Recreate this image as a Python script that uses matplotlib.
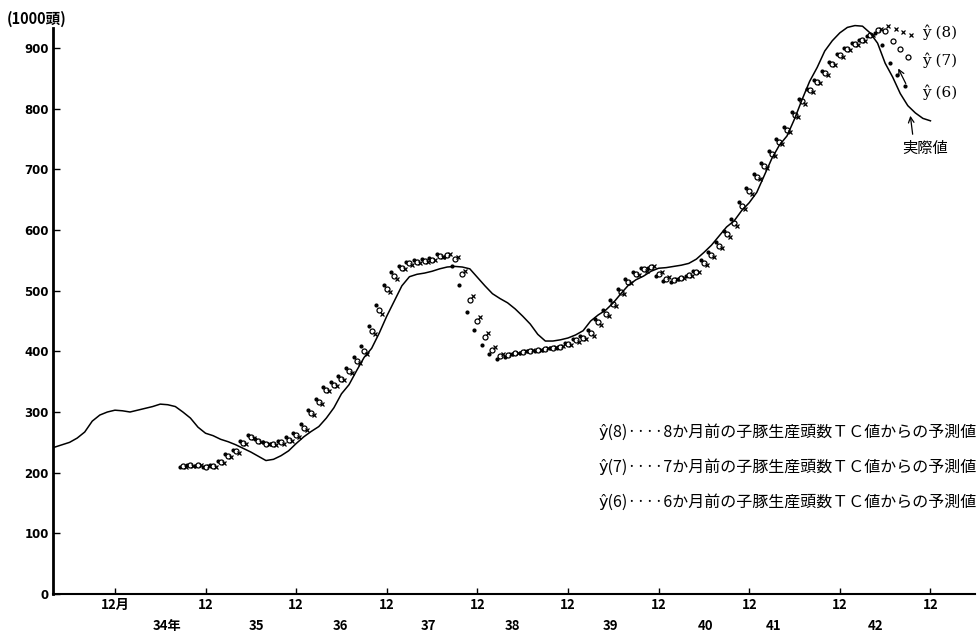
import numpy as np
import matplotlib
matplotlib.use("Agg")
import matplotlib.pyplot as plt
from matplotlib.transforms import offset_copy

plt.rcParams['font.family'] = ['Noto Sans CJK JP', 'DejaVu Sans']

# ---- data ----
actual_start = -8   # month index (0 = Dec of 昭和33)
actual = [242, 246, 250, 257, 267, 285, 295, 300,
          303, 302, 300, 303, 306, 309, 313, 312, 309, 300,
          290, 275, 265, 261, 255, 251, 246, 240, 234, 227,
          220, 222, 228, 236, 248, 259, 268, 276, 290, 307,
          330, 345, 368, 390, 405, 430, 458, 483, 508, 523,
          527, 529, 532, 536, 539, 540, 539, 536, 522, 508,
          495, 487, 480, 470, 458, 445, 428, 417, 417, 419,
          422, 427, 434, 450, 460, 468, 480, 495, 509, 518,
          524, 532, 537, 538, 540, 542, 545, 552, 563, 575,
          590, 605, 615, 632, 645, 662, 690, 718, 740, 755,
          783, 815, 845, 868, 895, 912, 925, 934, 937, 936,
          925, 908, 875, 852, 825, 805, 793, 784, 780]

fc_start = 9
yhat6 = [210, 213, 211, 209, 212, 220, 231, 238, 252, 262,
         255, 251, 248, 252, 258, 265, 280, 304, 322, 341,
         349, 359, 372, 390, 408, 441, 476, 510, 530, 541,
         547, 551, 552, 554, 560, 556, 540, 510, 465, 435,
         410, 395, 388, 391, 395, 398, 400, 401, 403, 405,
         406, 413, 420, 425, 436, 453, 468, 484, 503, 520,
         531, 538, 538, 524, 516, 515, 519, 524, 533, 550,
         563, 580, 598, 618, 646, 670, 692, 710, 730, 750,
         770, 795, 816, 833, 847, 862, 877, 890, 900, 908,
         914, 920, 925, 905, 875, 856, 838]
yhat7 = [211, 212, 213, 210, 211, 218, 228, 236, 249, 259,
         253, 248, 247, 250, 254, 262, 274, 298, 317, 337,
         345, 355, 367, 384, 401, 434, 468, 503, 524, 537,
         545, 548, 549, 551, 557, 559, 553, 528, 485, 450,
         424, 403, 393, 394, 397, 399, 401, 402, 404, 406,
         407, 412, 418, 422, 430, 448, 462, 478, 498, 515,
         528, 535, 539, 528, 520, 518, 521, 526, 531, 545,
         558, 574, 593, 612, 640, 665, 688, 705, 726, 745,
         765, 790, 812, 830, 844, 858, 874, 888, 898, 906,
         913, 922, 930, 928, 912, 898, 886]
yhat8 = [209, 211, 212, 211, 210, 216, 226, 233, 247, 257,
         251, 247, 246, 248, 252, 259, 270, 295, 314, 334,
         343, 352, 364, 380, 396, 428, 462, 498, 520, 535,
         543, 546, 548, 550, 555, 560, 556, 532, 492, 456,
         430, 407, 395, 395, 398, 400, 402, 403, 405, 407,
         408, 411, 416, 420, 426, 444, 458, 474, 494, 512,
         526, 533, 540, 531, 522, 519, 521, 525, 530, 542,
         555, 570, 588, 607, 634, 660, 684, 702, 722, 742,
         762, 786, 808, 827, 842, 856, 872, 886, 897, 905,
         912, 921, 931, 936, 932, 927, 922]

x_ticks = [0, 12, 24, 36, 48, 60, 72, 84, 96, 108]
x_ticklabels = ['12月', '12', '12', '12', '12', '12', '12', '12', '12', '12']
year_pos = [6.9, 18.8, 29.9, 41.5, 52.6, 65.6, 78.2, 87.2, 100.7]
year_labels = ['34年', '35', '36', '37', '38', '39', '40', '41', '42']
y_ticks = [0, 100, 200, 300, 400, 500, 600, 700, 800, 900]

legend_lines = [
    'ŷ(8)····8か月前の子豚生産頭数ＴＣ値からの予測値',
    'ŷ(7)····7か月前の子豚生産頭数ＴＣ値からの予測値',
    'ŷ(6)····6か月前の子豚生産頭数ＴＣ値からの予測値',
]

# ---- figure ----
fig = plt.figure(figsize=(9.8, 6.32), dpi=100)
ax = fig.add_axes([53/980, 1-594/632, (975-53)/980, (594-28)/632])

xa = np.arange(actual_start, actual_start + len(actual))
ax.plot(xa, actual, color='black', lw=1.1, clip_on=False, zorder=3)

xf = np.arange(fc_start, fc_start + len(yhat6))
tr6 = offset_copy(ax.transData, fig=fig, x=-3, y=0, units='dots')
tr8 = offset_copy(ax.transData, fig=fig, x=3, y=0, units='dots')
ax.plot(xf, yhat6, ls='none', marker='o', ms=2.0, color='black', transform=tr6, clip_on=False)
ax.plot(xf, yhat7, ls='none', marker='o', ms=3.6, mfc='white', mec='black', mew=0.9, clip_on=False)
ax.plot(xf, yhat8, ls='none', marker='x', ms=3.4, mec='black', mew=0.9, transform=tr8, clip_on=False)

ax.set_xlim(-8.2, 113.9)
ax.set_ylim(0, 933)

for s in ['top', 'right']:
    ax.spines[s].set_visible(False)
ax.spines['left'].set_linewidth(2.0)
ax.spines['bottom'].set_linewidth(1.5)

ax.set_yticks(y_ticks)
ax.set_yticklabels([str(v) for v in y_ticks], fontsize=8.5, fontweight='bold', family='DejaVu Sans')
ax.tick_params(axis='y', direction='in', length=5, width=1, pad=3)

ax.set_xticks(x_ticks)
ax.set_xticklabels(x_ticklabels, fontsize=9.5, fontweight='bold')
ax.tick_params(axis='x', which='major', direction='in', length=4, width=1, pad=3)
ax.set_xticks(year_pos, minor=True)
ax.set_xticklabels(year_labels, minor=True, fontsize=9.5, fontweight='bold')
ax.tick_params(axis='x', which='minor', length=0, pad=18)

fig.text(7/980, 1-19/632, '(1000頭)', fontsize=10.5, fontweight='bold', va='center', ha='left')

# right side labels
for lab, ypx in [('ŷ (8)', 32), ('ŷ (7)', 60), ('ŷ (6)', 92)]:
    fig.text(922/980, 1-ypx/632, lab, fontsize=11, va='center', ha='left',
             family=['DejaVu Serif'])
fig.text(925/980, 1-148/632, '実際値', fontsize=11, va='center', ha='center')
ax.annotate('', xy=(910, 632-113), xycoords='figure pixels',
            xytext=(913, 632-137), textcoords='figure pixels',
            arrowprops=dict(arrowstyle='->', color='black', lw=0.9))
ax.annotate('', xy=(897, 632-66), xycoords='figure pixels',
            xytext=(907, 632-86), textcoords='figure pixels',
            arrowprops=dict(arrowstyle='->', color='black', lw=0.9))

for txt, ypx in zip(legend_lines, [432, 467, 502]):
    fig.text(977/980, 1-ypx/632, txt, fontsize=11.5, va='center', ha='right')

fig.savefig('out.png', dpi=100, facecolor='white')
